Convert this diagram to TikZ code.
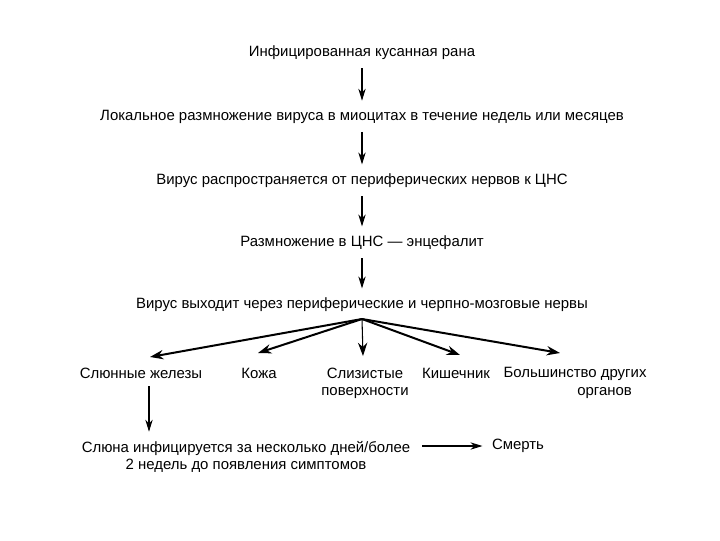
\documentclass[tikz,border=0pt]{standalone}
\usepackage{fontspec}
\setmainfont{Liberation Sans}
\usetikzlibrary{arrows.meta}
\begin{document}
\begin{tikzpicture}[x=0.75pt,y=-0.75pt,
  txt/.style={inner sep=2pt,font=\fontsize{11.2}{13}\selectfont,align=center},
  lab/.style={txt,anchor=base},
  arr/.style={line width=0.8pt,-{Stealth[length=9pt,width=5.5pt]},shorten <=4pt,shorten >=5pt},
  farr/.style={line width=1.5pt,-{Stealth[length=10pt,width=7pt]}}]
\useasboundingbox[fill=white] (0,0) rectangle (720,540);
\node[txt] (t1) at (362,53) {Инфицированная кусанная рана};
\node[txt] (t2) at (362,117) {Локальное размножение вируса в миоцитах в течение недель или месяцев};
\node[txt] (t3) at (362,181) {Вирус распространяется от периферических нервов к ЦНС};
\node[txt] (t4) at (362,243) {Размножение в ЦНС — энцефалит};
\node[txt] (t5) at (362,305) {Вирус выходит через периферические и черпно-мозговые нервы};
\draw[arr] (t1.south) -- (t2.north);
\draw[arr] (t2.south) -- (t3.north);
\draw[arr] (t3.south) -- (t4.north);
\draw[arr] (t4.south) -- (t5.north);
\node[lab] (l1) at (141,378) {Слюнные железы};
\node[lab] (l2) at (259,378) {Кожа};
\node[txt] (l3) at (365,383) {Слизистые\\поверхности};
\node[lab] (l4) at (456,378) {Кишечник};
\node[txt,align=right] (l5) at (575,383) {Большинство других\\органов\hspace*{11pt}};
\coordinate (fan) at (362,319);
\coordinate (f1) at (150,357);
\coordinate (f2) at (258,353);
\coordinate (f3) at (363,356);
\coordinate (f4) at (460,355);
\coordinate (f5) at (560,353);
\draw[farr] (fan) -- (f1);
\draw[farr] (fan) -- (f2);
\draw[farr,line width=0.8pt] (fan) -- (f3);
\draw[farr] (fan) -- (f4);
\draw[farr] (fan) -- (f5);
\node[txt] (s1) at (246,457) {Слюна инфицируется за несколько дней/более\\2 недель до появления симптомов};
\node[txt] (sm) at (518,446) {Смерть};
\draw[arr] ([xshift=6pt]l1.south) -- ([xshift=6pt]l1.south |- s1.north);
\draw[arr,shorten <=7pt] (s1.east |- sm.west) -- (sm.west);
\end{tikzpicture}
\end{document}
